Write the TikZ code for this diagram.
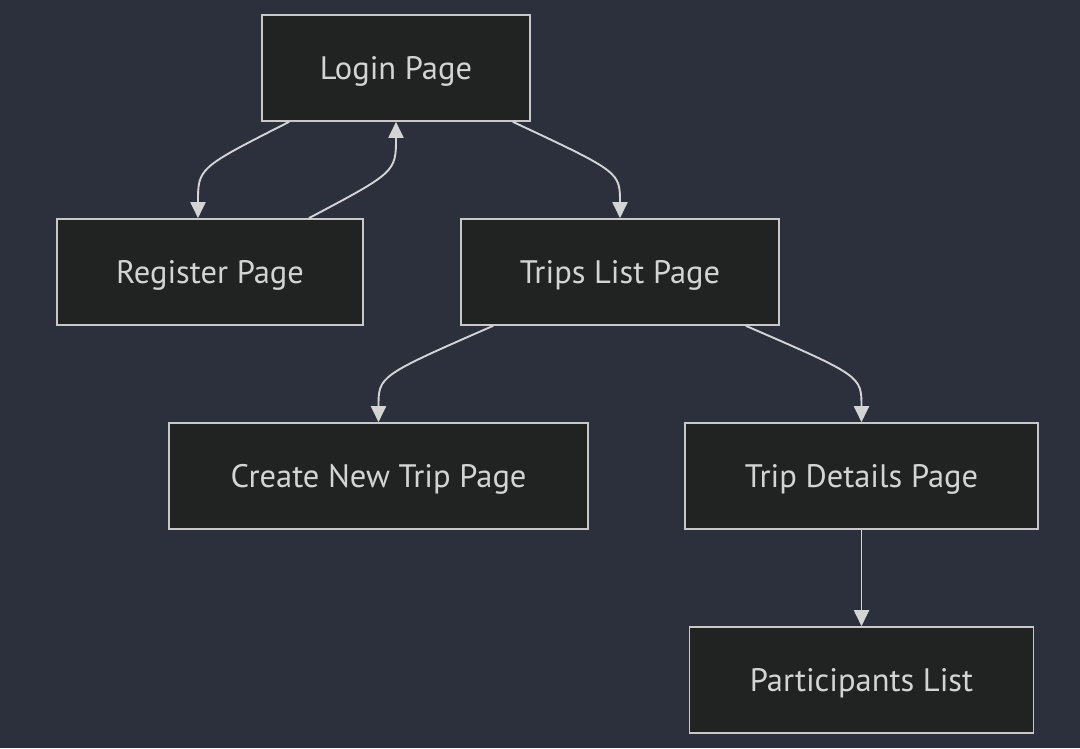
\documentclass[tikz,border=0pt]{standalone}
\usepackage{fontspec}
\setmainfont{PT Sans}
\usetikzlibrary{arrows.meta}
\definecolor{bgc}{RGB}{43,48,60}
\definecolor{nodefill}{RGB}{33,34,34}
\definecolor{nodeline}{RGB}{200,200,200}
\definecolor{txt}{RGB}{212,212,212}
\definecolor{edge}{RGB}{212,212,212}
\begin{document}
\begin{tikzpicture}[x=1pt,y=-1pt,
  pagebox/.style={draw=nodeline,fill=nodefill,line width=1.6pt,text=txt,
    minimum height=106pt,inner sep=0pt,text depth=0pt,font=\fontsize{32.5}{35}\selectfont},
  link/.style={draw=edge,line width=1.9pt,-{Triangle[length=16pt,width=15pt]}}]
\useasboundingbox[fill=bgc] (0,0) rectangle (1080,748);
\node[pagebox,minimum width=268pt] (login) at (396,68) {Login Page};
\node[pagebox,minimum width=306pt] (register) at (210,272) {Register Page};
\node[pagebox,minimum width=318pt] (trips) at (620,272) {Trips List Page};
\node[pagebox,minimum width=419pt] (create) at (378.5,476) {Create New Trip Page};
\node[pagebox,minimum width=353pt] (details) at (861.5,476) {Trip Details Page};
\node[pagebox,minimum width=344pt] (parts) at (861.5,680) {Participants List};
\draw[link] ([xshift=28pt]login.south west) .. controls (198,168) and (198,168) .. ([xshift=-12pt]register.north);
\draw[link] ([xshift=-55pt]register.north east) .. controls (396,172) and (396,172) .. (login.south);
\draw[link] ([xshift=-18pt]login.south east) .. controls (620,172) and (620,172) .. (trips.north);
\draw[link] ([xshift=33pt]trips.south west) .. controls (378.5,376) and (378.5,376) .. (create.north);
\draw[link] ([xshift=-34pt]trips.south east) .. controls (861.5,376) and (861.5,376) .. (details.north);
\draw[link] (details.south) -- (parts.north);
\end{tikzpicture}
\end{document}
